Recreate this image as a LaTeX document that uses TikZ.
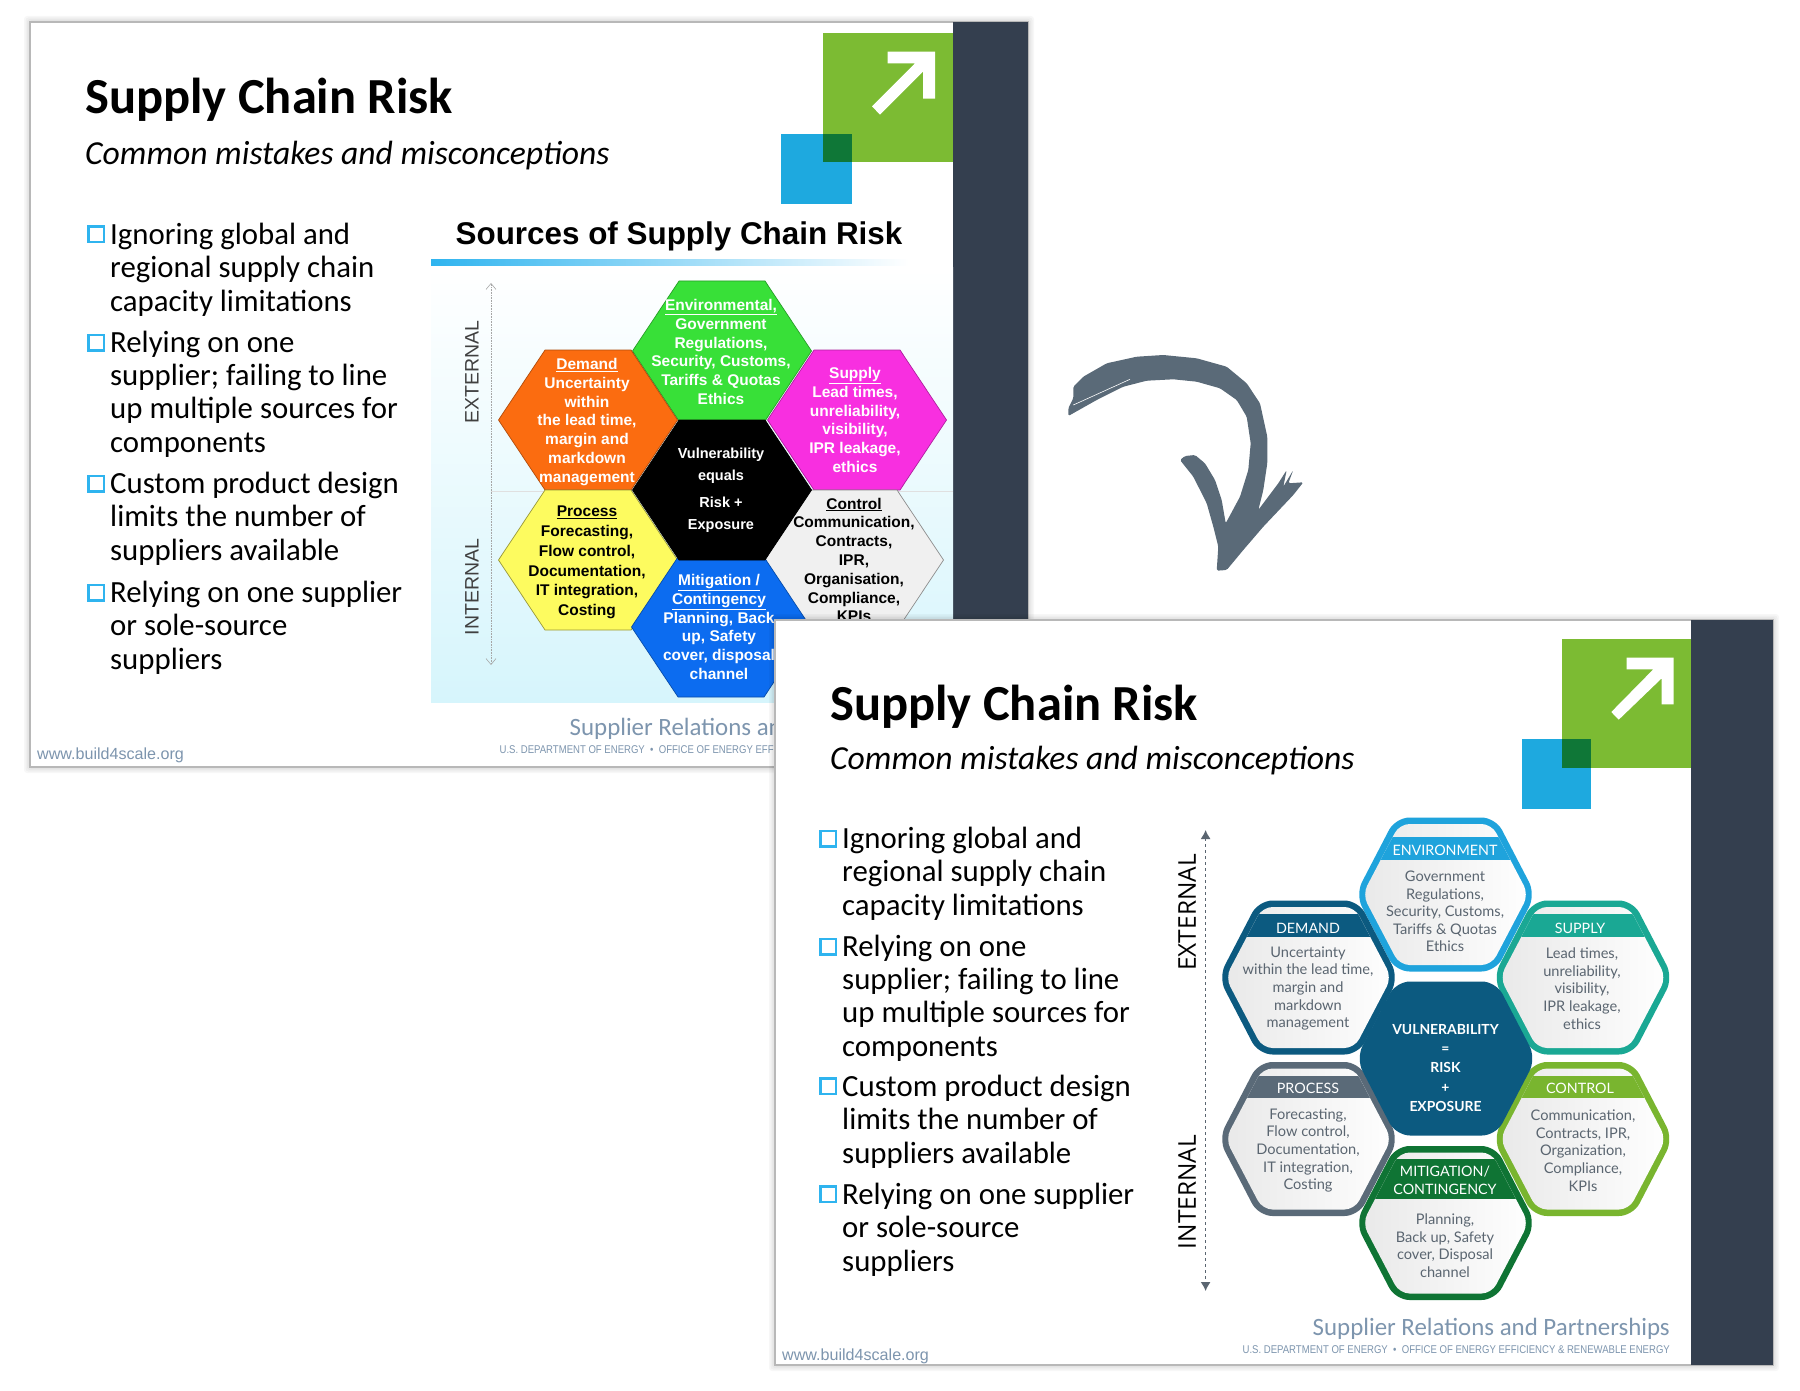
\documentclass[tikz,border=0pt]{standalone}
\usepackage{fontspec}
\usepackage{tikz}
\usetikzlibrary{arrows.meta}
\setmainfont{Carlito}
\newfontfamily\oldfont{Liberation Sans}
\newfontfamily\cellfont{Lato}
\newfontfamily\axisfont{Open Sans}
\newfontfamily\smallfont[FakeStretch=0.85]{Liberation Sans}
\definecolor{bandcolor}{HTML}{343F4F}
\definecolor{logogreen}{HTML}{7CBB33}
\definecolor{logoblue}{HTML}{1EA9DF}
\definecolor{logodark}{HTML}{0F7737}
\definecolor{footcolor}{HTML}{7D95AE}
\definecolor{bulletcolor}{HTML}{2FB4EF}
\definecolor{panelcolor}{HTML}{D6F5FC}
\definecolor{cellgrey}{HTML}{5A6570}
\definecolor{cellenv}{HTML}{1FA3DC}
\definecolor{celldemand}{HTML}{0C5A80}
\definecolor{cellsupply}{HTML}{1AA894}
\definecolor{cellprocess}{HTML}{5A6A78}
\definecolor{cellcontrol}{HTML}{79B52F}
\definecolor{cellmitig}{HTML}{0F7434}
\definecolor{oldgreen}{HTML}{38E038}
\definecolor{oldorange}{HTML}{FB6C10}
\definecolor{oldpink}{HTML}{F82FE0}
\definecolor{oldyellow}{HTML}{FDFB5F}
\definecolor{oldgrey}{HTML}{F0F0F0}
\definecolor{oldblue}{HTML}{0C6CF0}
\newcommand{\hexpath}[3]{(-#1,0) -- (-#2,-#3) -- (#2,-#3) -- (#1,0) -- (#2,#3) -- (-#2,#3) -- cycle}
\newcommand{\slidebox}[4]{
  \foreach \d in {1.5,3,4.5,6}
    \fill[black,opacity=.03,rounded corners=3] (#1-\d,#2-\d) rectangle (#3+\d,#4+\d);
  \draw[fill=white,draw=black!28,line width=1.5] (#1,#2) rectangle (#3,#4);
}
\newcommand{\oldhex}[4]{
  \begin{scope}[shift={(#1,#2)}]
    \fill[#3,draw=#4,line width=.7] \hexpath{89.5}{43}{70};
  \end{scope}
}
\newcommand{\newhex}[5]{
  \begin{scope}[shift={(#1,#2)}]
    \fill[#3,rounded corners=14] \hexpath{90}{50}{77};
    \begin{scope}
      \clip[rounded corners=10] \hexpath{83}{46}{70.5};
      \shade[left color=black!9,right color=white] (-90,-77) rectangle (90,77);
      \fill[#3] (-90,#4) rectangle (90,#5);
    \end{scope}
  \end{scope}
}
\begin{document}
\begin{tikzpicture}[x=1pt,y=-1pt]
\tikzstyle{title}=[anchor=base west,inner sep=0,font=\fontsize{50.5}{60}\selectfont\bfseries]
\tikzstyle{subtitle}=[anchor=base west,inner sep=0,font=\fontsize{33.6}{40}\selectfont\itshape]
\tikzstyle{bulletbox}=[draw=bulletcolor,line width=2.5,fill=none,inner sep=0,minimum size=15.5]
\tikzstyle{bullettext}=[anchor=base west,inner sep=0,align=left,font=\fontsize{30.8}{33.3}\selectfont]
\tikzstyle{website}=[anchor=west,inner sep=0,text=footcolor,font=\oldfont\fontsize{16.1}{18}\selectfont]
\tikzstyle{suppliers}=[anchor=base east,inner sep=0,text=footcolor,font=\fontsize{24.9}{30}\selectfont]
\tikzstyle{office}=[anchor=east,inner sep=0,text=footcolor,font=\smallfont\fontsize{11.25}{13}\selectfont]
\tikzstyle{oldcell}=[inner sep=0,align=center,text=white,font=\oldfont\bfseries\fontsize{15.5}{18.8}\selectfont]
\tikzstyle{oldaxis}=[inner sep=0,rotate=90,text=black!75,font=\oldfont\fontsize{19.5}{22}\selectfont]
\tikzstyle{newaxis}=[inner sep=0,rotate=90,text=black,font=\axisfont\fontsize{24.5}{28}\selectfont]
\tikzstyle{cellhead}=[inner sep=0,align=center,text=white,font=\cellfont\fontsize{14.3}{17.5}\selectfont]
\tikzstyle{cellbody}=[inner sep=0,align=center,text=cellgrey,font=\cellfont\fontsize{14.6}{17.6}\selectfont]

\slidebox{30}{22}{1028}{767}
\fill[bandcolor] (953,22) rectangle (1028,767);
\fill[logogreen] (823,33) rectangle (953,162);
\fill[logoblue] (781,134) rectangle (852,204);
\fill[logodark] (823,134) rectangle (852,162);
\fill[white] (887.7,51.7) -- (935,51.7) -- (935,98.7) -- (923,98.7) -- (923,71.7) -- (880,114.7)
    -- (872,106.3) -- (915,63.3) -- (887.7,63.3) -- cycle;
\node[title] (oldtitle) at (85,113.7) {Supply Chain Risk};
\node[subtitle] (oldsub) at (85,165) {Common mistakes and misconceptions};
\node[bulletbox] (oldbox1) at (96,234.5) {};
\node[bullettext] (oldtext1) at (110,311) {Ignoring global and\\regional supply chain\\capacity limitations};
\node[bulletbox] (oldbox2) at (96,342.5) {};
\node[bullettext] (oldtext2) at (110,452) {Relying on one\\supplier; failing to line\\up multiple sources for\\components};
\node[bulletbox] (oldbox3) at (96,483.5) {};
\node[bullettext] (oldtext3) at (110,560) {Custom product design\\limits the number of\\suppliers available};
\node[bulletbox] (oldbox4) at (96,592.5) {};
\node[bullettext] (oldtext4) at (110,669) {Relying on one supplier\\or sole-source\\suppliers};

\shade[top color=white,bottom color=panelcolor] (431,268) rectangle (953,702);
\shade[left color=bulletcolor,right color=white] (431,260) rectangle (909,266);
\node[inner sep=0,font=\oldfont\bfseries\fontsize{31.4}{36}\selectfont] (oldhead) at (679,236.5) {Sources of Supply Chain Risk};
\draw[black!12,line width=.7] (491,491) -- (953,491);
\coordinate (oldup) at (491,283);
\coordinate (olddown) at (491,665);
\draw[black!35,densely dotted,line width=.6,{Straight Barb[length=6,width=10]}-{Straight Barb[length=6,width=10]}] (oldup) -- (olddown);
\node[oldaxis] (oldext) at (472,372) {EXTERNAL};
\node[oldaxis] (oldint) at (472,587) {INTERNAL};

\oldhex{722}{351}{oldgreen}{oldgreen!70!black}
\oldhex{588}{420}{oldorange}{oldorange!70!black}
\oldhex{857}{420}{oldpink}{oldpink!70!black}
\oldhex{588}{560}{oldyellow}{oldyellow!60!black}
\oldhex{854}{560}{oldgrey}{black!45}
\oldhex{721}{627}{oldblue}{oldblue!70!black}
\oldhex{722}{490}{black}{black}
\node[oldcell] (oldenv) at (721,352) {\underline{Environmental,}\\Government\\Regulations,\\Security, Customs,\\Tariffs \& Quotas\\Ethics};
\node[oldcell] (olddem) at (587,422) {\underline{Demand}\\Uncertainty\\within\\the lead time,\\margin and\\markdown\\management};
\node[oldcell] (oldsup) at (855,420) {\underline{Supply}\\Lead times,\\unreliability,\\visibility,\\IPR leakage,\\ethics};
\node[oldcell,font=\oldfont\bfseries\fontsize{14.5}{22}\selectfont] (oldvul) at (721,490.5) {Vulnerability\\equals\\[5pt]Risk +\\Exposure};
\node[oldcell,text=black,font=\oldfont\bfseries\fontsize{15.5}{19.8}\selectfont] (oldpro) at (587,562.5) {\underline{Process}\\Forecasting,\\Flow control,\\Documentation,\\IT integration,\\Costing};
\node[oldcell,text=black] (oldcon) at (854,560) {\underline{Control}\\Communication,\\Contracts,\\IPR,\\Organisation,\\Compliance,\\KPIs};
\node[oldcell] (oldmit) at (719,627) {\underline{Mitigation /}\\\underline{Contingency}\\Planning, Back\\up, Safety\\cover, disposal\\channel};
\node[suppliers] (oldrel) at (927,735) {Supplier Relations and Partnerships};
\node[office] (olddep) at (927,750) {U.S. DEPARTMENT OF ENERGY \ \textbullet\ \ OFFICE OF ENERGY EFFICIENCY \& RENEWABLE ENERGY};
\node[website] (oldweb) at (37,755) {www.build4scale.org};

\fill[cellprocess,rounded corners=1.5] (1068.3,416) -- (1068.3,408.3) -- (1073.3,398.3) -- (1073.3,386.7) -- (1083.3,376.7) -- (1106.7,363.3)
    -- (1136.7,356.7) -- (1163.3,355) -- (1196.7,358.3) -- (1226.7,366.7) -- (1246.7,383.3) -- (1260,403.3)
    -- (1267.3,436.7) -- (1267.3,463.3) -- (1263.3,490) -- (1258.3,510) -- (1278.3,483.3) -- (1286.7,470)
    -- (1283.3,486.7) -- (1293.3,470) -- (1288.3,483.3) -- (1303.3,482.3) -- (1293.3,495) -- (1263.3,526.7)
    -- (1243.3,550) -- (1226.7,570) -- (1216.7,570.7) -- (1218.3,546.7) -- (1213.3,526.7) -- (1206.7,503.3)
    -- (1193.3,476.7) -- (1180,460) -- (1185,456) -- (1195,455) -- (1205,463.3) -- (1215,480) -- (1221.7,500)
    -- (1225.7,523.3) -- (1240,496.7) -- (1248.3,470) -- (1250.7,443.3) -- (1246.7,416.7) -- (1236.7,400)
    -- (1220,388.3) -- (1196.7,381.7) -- (1173.3,379.3) -- (1146.7,380.7) -- (1123.3,386.7) -- (1096.7,400) -- cycle;
\draw[white,line width=.6] (1073.3,405) -- (1130,379.3);

\slidebox{775}{620}{1773}{1365}
\fill[bandcolor] (1691,620) rectangle (1773,1365);
\fill[logogreen] (1562,639) rectangle (1691,768);
\fill[logoblue] (1522,739) rectangle (1591,809);
\fill[logodark] (1562,739) rectangle (1591,768);
\fill[white] (1626.7,657.7) -- (1673.7,657.7) -- (1673.7,704.3) -- (1661.7,704.3) -- (1661.7,678.3) -- (1618.7,719.7)
    -- (1611.3,712) -- (1653.3,669.3) -- (1626.7,669.3) -- cycle;
\node[title] (newtitle) at (830,720) {Supply Chain Risk};
\node[subtitle] (newsub) at (830,769) {Common mistakes and misconceptions};
\node[bulletbox] (newbox1) at (828,838.5) {};
\node[bullettext] (newtext1) at (842,915) {Ignoring global and\\regional supply chain\\capacity limitations};
\node[bulletbox] (newbox2) at (828,946.5) {};
\node[bullettext] (newtext2) at (842,1056) {Relying on one\\supplier; failing to line\\up multiple sources for\\components};
\node[bulletbox] (newbox3) at (828,1086) {};
\node[bullettext] (newtext3) at (842,1163) {Custom product design\\limits the number of\\suppliers available};
\node[bulletbox] (newbox4) at (828,1194) {};
\node[bullettext] (newtext4) at (842,1271) {Relying on one supplier\\or sole-source\\suppliers};

\coordinate (newup) at (1205.6,830);
\coordinate (newdown) at (1205.6,1291);
\draw[cellgrey,dashed,line width=1.2,{Latex[length=9,width=10]}-{Latex[length=9,width=10]}] (newup) -- (newdown);
\node[newaxis] (newext) at (1187,912.5) {EXTERNAL};
\node[newaxis] (newint) at (1187,1192) {INTERNAL};

\newhex{1445.5}{894.5}{cellenv}{-57.5}{-34.5}
\newhex{1308.5}{977.5}{celldemand}{-63.5}{-40.5}
\newhex{1583}{977.5}{cellsupply}{-63.5}{-40.5}
\newhex{1308.5}{1139}{cellprocess}{-63}{-41}
\newhex{1583}{1139}{cellcontrol}{-63}{-41}
\newhex{1445.5}{1223}{cellmitig}{-64}{-24}
\begin{scope}[shift={(1446,1058.5)}]
  \fill[celldemand,rounded corners=14] \hexpath{90}{50}{77};
\end{scope}
\node[cellhead] (envhead) at (1445,850.5) {ENVIRONMENT};
\node[cellbody] (envbody) at (1445,911.5) {Government\\Regulations,\\Security, Customs,\\Tariffs \& Quotas\\Ethics};
\node[cellhead] (demhead) at (1308,928.5) {DEMAND};
\node[cellbody] (dembody) at (1308,988.5) {Uncertainty\\within the lead time,\\margin and\\markdown\\management};
\node[cellhead] (suphead) at (1580,928.5) {SUPPLY};
\node[cellbody] (supbody) at (1582,988.5) {Lead times,\\unreliability,\\visibility,\\IPR leakage,\\ethics};
\node[cellhead,font=\cellfont\bfseries\fontsize{13.9}{19.2}\selectfont] (vulnode) at (1445.5,1068) {VULNERABILITY\\=\\RISK\\+\\EXPOSURE};
\node[cellhead] (prohead) at (1308,1088.5) {PROCESS};
\node[cellbody] (probody) at (1308,1150.5) {Forecasting,\\Flow control,\\Documentation,\\IT integration,\\Costing};
\node[cellhead] (conhead) at (1580,1088.5) {CONTROL};
\node[cellbody] (conbody) at (1583,1150.5) {Communication,\\Contracts, IPR,\\Organization,\\Compliance,\\KPIs};
\node[cellhead] (mithead) at (1445,1180.5) {MITIGATION/\\CONTINGENCY};
\node[cellbody] (mitbody) at (1445,1245.5) {Planning,\\Back up, Safety\\cover, Disposal\\channel};
\node[suppliers] (newrel) at (1670,1335) {Supplier Relations and Partnerships};
\node[office] (newdep) at (1670,1350) {U.S. DEPARTMENT OF ENERGY \ \textbullet\ \ OFFICE OF ENERGY EFFICIENCY \& RENEWABLE ENERGY};
\node[website] (newweb) at (782,1356) {www.build4scale.org};
\useasboundingbox (0,0) rectangle (1800,1391);
\end{tikzpicture}
\end{document}
